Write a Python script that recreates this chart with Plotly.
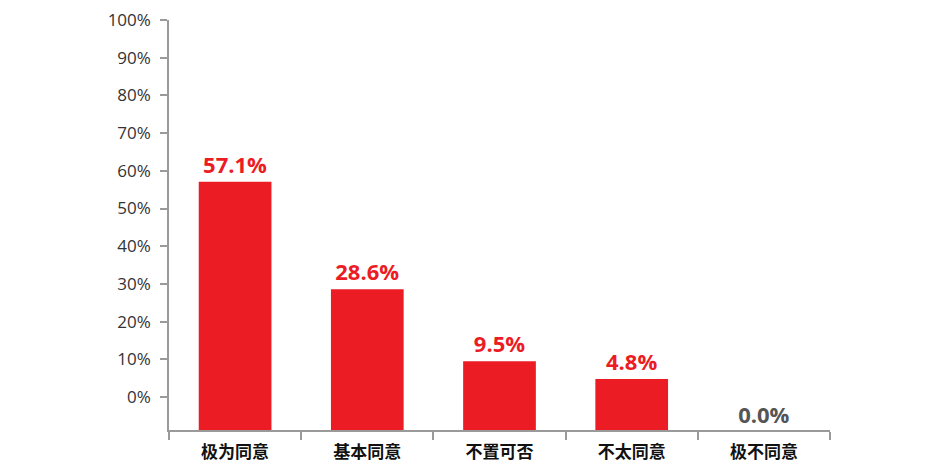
import plotly.graph_objects as go

categories = ["极为同意", "基本同意", "不置可否", "不太同意", "极不同意"]
values = [57.1, 28.6, 9.5, 4.8, 0.0]
y_tick_values = [0, 10, 20, 30, 40, 50, 60, 70, 80, 90, 100]
y_tick_labels = [f"{v}%" for v in y_tick_values]

Y_MIN = -8.75
Y_MAX = 100
RED = "#EC1C24"
GRAY_LABEL = "#555555"

bar_colors = [RED if v > 0 else "rgba(0,0,0,0)" for v in values]
text_colors = [RED if v > 0 else GRAY_LABEL for v in values]
text_positions = ["outside" if v > 0 else "inside" for v in values]

fig = go.Figure(
    go.Bar(
        x=categories,
        y=[v - Y_MIN for v in values],
        base=Y_MIN,
        marker=dict(color=bar_colors, line=dict(width=0)),
        text=[f"{v:.1f}%" for v in values],
        textposition=text_positions,
        insidetextanchor="middle",
        textfont=dict(family="Open Sans", size=22, color=text_colors, weight="bold"),
        cliponaxis=False,
        constraintext="none",
        hoverinfo="skip",
    )
)

fig.update_layout(
    width=941,
    height=470,
    margin=dict(l=161, r=119, t=12, b=48, autoexpand=False),
    paper_bgcolor="white",
    plot_bgcolor="white",
    bargap=0.45,
    showlegend=False,
    uniformtext=dict(mode=False),
)

fig.update_yaxes(
    range=[Y_MIN, Y_MAX],
    tickvals=y_tick_values,
    ticktext=y_tick_labels,
    automargin=False,
    ticklabeloverflow="allow",
    showgrid=False,
    zeroline=False,
    showline=True,
    linecolor="#9a9a9a",
    linewidth=1.5,
    ticks="outside",
    ticklen=7,
    tickcolor="#9a9a9a",
    tickwidth=1.5,
    tickfont=dict(family="Open Sans", size=17, color="#333333"),
    ticklabelstandoff=6,
)

fig.update_xaxes(
    automargin=False,
    ticklabeloverflow="allow",
    showgrid=False,
    showline=True,
    linecolor="#9a9a9a",
    linewidth=1.5,
    ticks="outside",
    tickson="boundaries",
    ticklen=8,
    tickcolor="#9a9a9a",
    tickwidth=1.5,
    tickfont=dict(family="Noto Sans CJK SC", size=17, color="#111111", weight="bold"),
    ticklabelstandoff=6,
)

fig.write_html("out.html")
